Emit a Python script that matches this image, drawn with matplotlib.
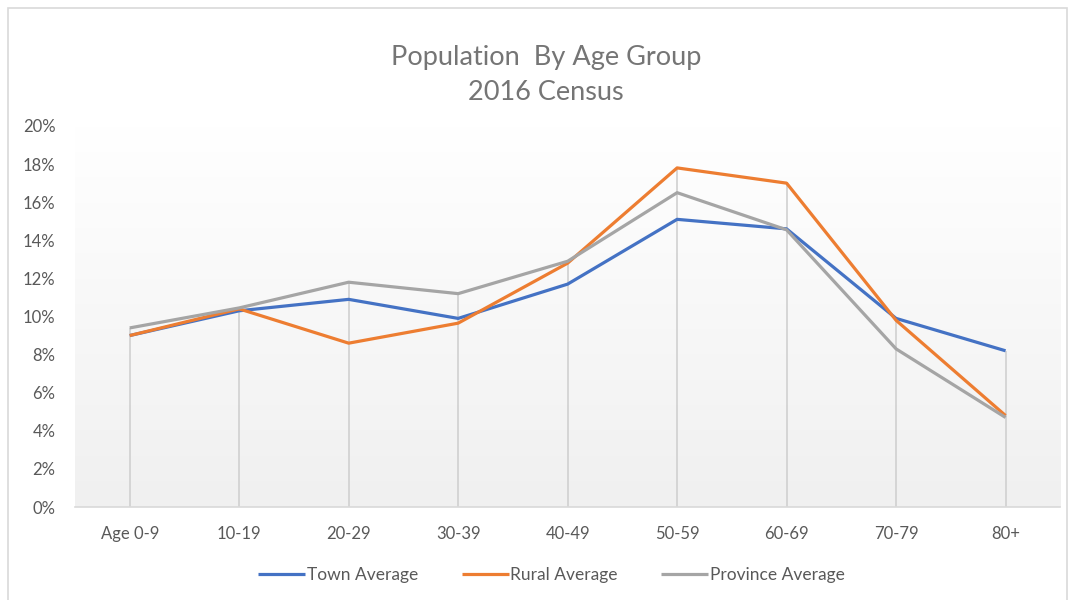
import matplotlib
matplotlib.use("Agg")
import matplotlib.pyplot as plt
import numpy as np
from matplotlib.patches import Rectangle

plt.rcParams['font.family'] = ['Lato', 'DejaVu Sans']

# Data (percent of population)
age_groups = ['Age 0-9', '10-19', '20-29', '30-39', '40-49',
              '50-59', '60-69', '70-79', '80+']
town = [9.0, 10.3, 10.9, 9.9, 11.7, 15.1, 14.6, 9.9, 8.2]
rural = [9.0, 10.4, 8.6, 9.65, 12.8, 17.8, 17.0, 9.8, 4.8]
province = [9.4, 10.45, 11.8, 11.2, 12.9, 16.5, 14.55, 8.3, 4.7]

series_names = ['Town Average', 'Rural Average', 'Province Average']
colors = ['#4472C4', '#ED7D31', '#A5A5A5']
text_col = '#595959'

fig = plt.figure(figsize=(10.71, 6), dpi=100)
fig.patch.set_facecolor('white')

# light border round the chart, like the Excel chart frame
fig.patches.append(Rectangle((8 / 1071, -0.01), 1 - 12 / 1071, 1 - 8 / 600 + 0.01,
                             transform=fig.transFigure, fill=False,
                             edgecolor='#d9d9d9', linewidth=1.2))

ax = fig.add_axes([0.070, 0.155, 0.920, 0.635])
x = np.arange(len(age_groups))
ax.set_xlim(-0.5, len(age_groups) - 0.5)
ax.set_ylim(0, 20)

# soft vertical gradient in the plot area
grad = np.linspace(0, 1, 256).reshape(-1, 1)
ax.imshow(grad, extent=[-0.5, len(age_groups) - 0.5, 0, 20], aspect='auto',
          cmap=matplotlib.colors.LinearSegmentedColormap.from_list(
              'g', ['#f0f0f0', '#ffffff']),
          origin='lower', zorder=0)

# drop lines from the highest point down to the axis
tops = np.max(np.vstack([town, rural, province]), axis=0)
ax.vlines(x, 0, tops, color='#d0d0d0', linewidth=1.2, zorder=1)

for vals, name, c in zip([town, rural, province], series_names, colors):
    ax.plot(x, vals, color=c, linewidth=2.3, label=name, zorder=3,
            solid_capstyle='butt')

for s in ['top', 'right', 'left']:
    ax.spines[s].set_visible(False)
ax.spines['bottom'].set_color('#d9d9d9')
ax.spines['bottom'].set_linewidth(1.2)

ax.set_yticks(range(0, 21, 2))
ax.set_yticklabels([f'{v}%' for v in range(0, 21, 2)])
ax.set_xticks(x)
ax.set_xticklabels(age_groups)
ax.tick_params(axis='both', length=0, labelsize=12, colors=text_col)
ax.tick_params(axis='y', pad=14)
ax.tick_params(axis='x', pad=14)

fig.text(0.51, 0.905, 'Population  By Age Group', ha='center', va='center',
         fontsize=19.5, color='#757575')
fig.text(0.51, 0.845, '2016 Census', ha='center', va='center',
         fontsize=19.5, color='#757575')

fig.legend(loc='center', bbox_to_anchor=(0.515, 0.042), ncol=3, frameon=False,
           fontsize=12.5, labelcolor=text_col, handlelength=2.7,
           handletextpad=0.1, columnspacing=2.5)

fig.savefig('out.png', dpi=100)
